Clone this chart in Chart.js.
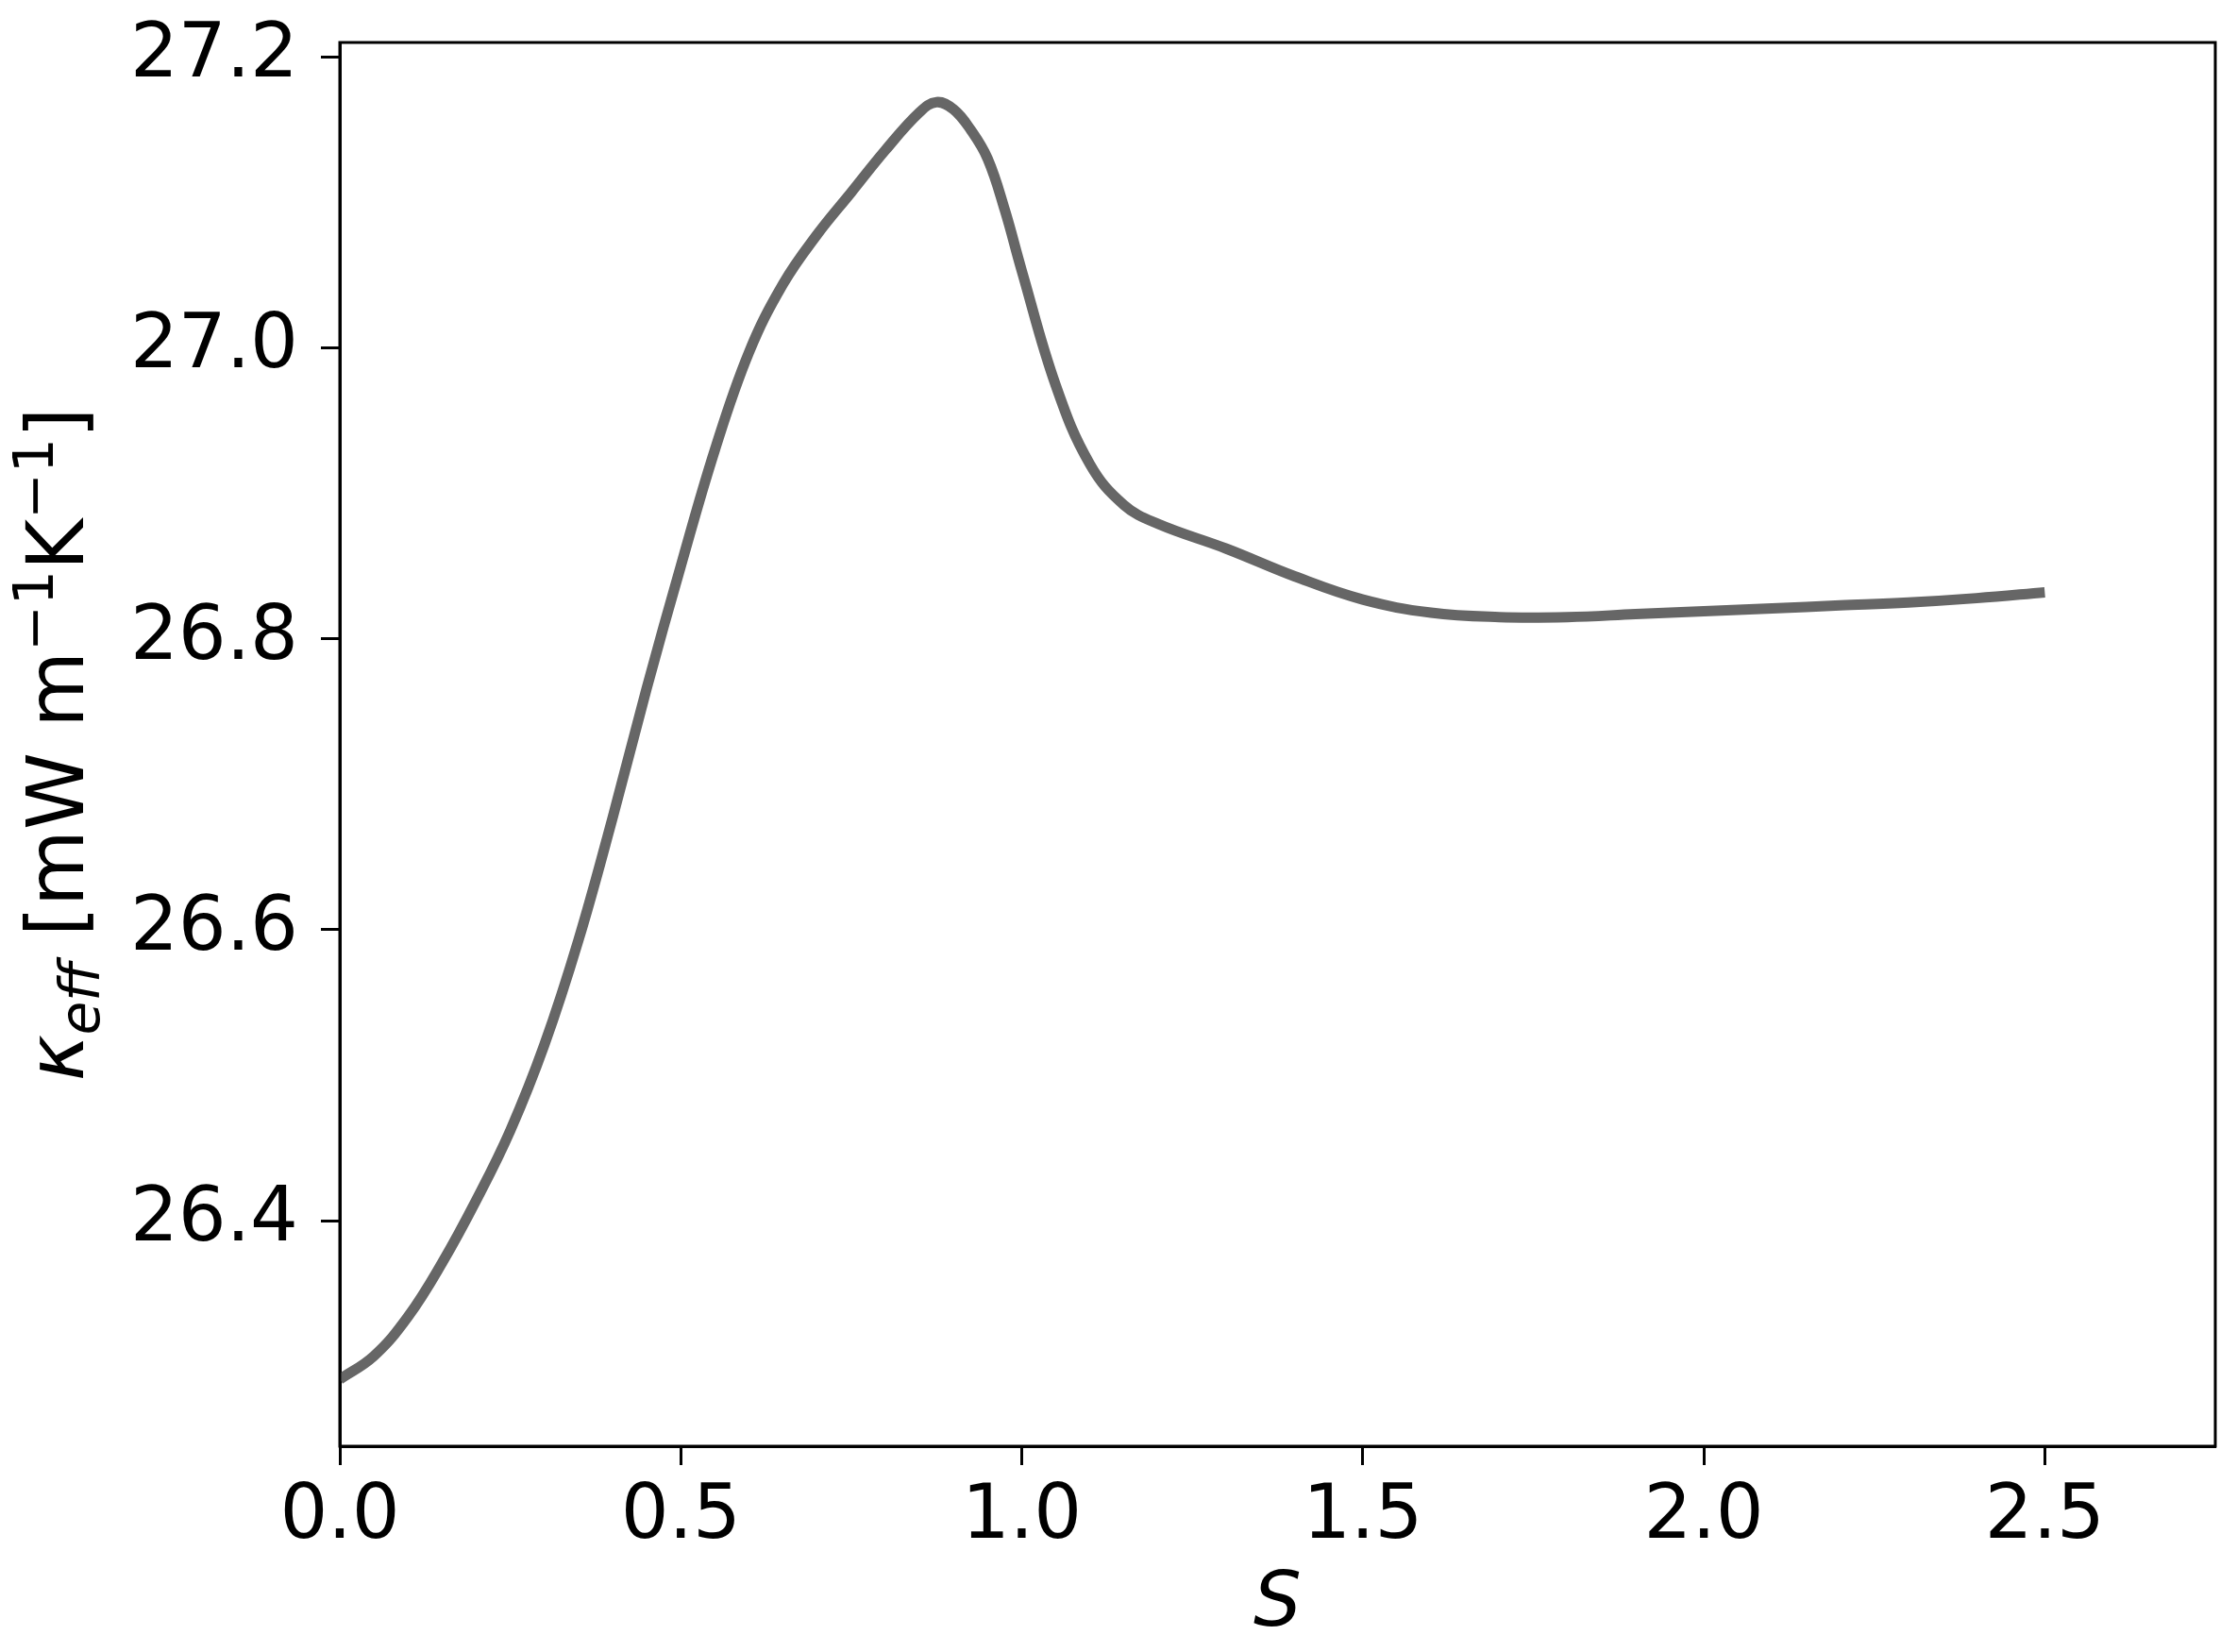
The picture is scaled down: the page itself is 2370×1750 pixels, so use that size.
<!DOCTYPE html>
<html>
<head>
<meta charset="utf-8">
<script src="https://cdn.jsdelivr.net/npm/chart.js@4.4.1/dist/chart.umd.min.js"></script>
<style>
  html, body { margin: 0; padding: 0; background: #fff; }
  #wrap { width: 2370px; height: 1750px; }
</style>
</head>
<body>
<div id="wrap"><canvas id="chart" width="2370" height="1750"></canvas></div>
<script>
// values
const sValues = [0.00, 0.05, 0.10, 0.15, 0.20, 0.25, 0.30, 0.35, 0.40, 0.45,
    0.50, 0.55, 0.60, 0.65, 0.70, 0.75, 0.80, 0.85, 0.875, 0.90,
    0.925, 0.95, 0.975, 1.00, 1.05, 1.10, 1.15, 1.20, 1.30, 1.40,
    1.50, 1.60, 1.70, 1.80, 1.90, 2.00, 2.10, 2.20, 2.30, 2.40, 2.50];
const kappaValues = [26.291, 26.307, 26.334, 26.371, 26.414, 26.462, 26.521, 26.593, 26.677, 26.766,
    26.850, 26.930, 26.997, 27.044, 27.078, 27.107, 27.136, 27.162, 27.169, 27.164,
    27.150, 27.130, 27.095, 27.053, 26.974, 26.920, 26.892, 26.879, 26.862, 26.843,
    26.827, 26.818, 26.815, 26.815, 26.817, 26.819, 26.821, 26.823, 26.825, 26.828, 26.832];
const xTicks = [0.0, 0.5, 1.0, 1.5, 2.0, 2.5];
const yTicks = [26.4, 26.6, 26.8, 27.0, 27.2];

const FONT = 'DejaVu Sans';
const TICK_SIZE = 80;

// frame round the plot area (matplotlib style box)
const framePlugin = {
    id: 'frame',
    afterDraw(chart) {
        const { ctx, chartArea } = chart;
        ctx.save();
        ctx.strokeStyle = '#000';
        ctx.lineWidth = 3;
        ctx.strokeRect(chartArea.left, chartArea.top,
            chartArea.right - chartArea.left, chartArea.bottom - chartArea.top);
        ctx.restore();
    }
};

// y label with subscript / superscripts, drawn rotated
const yLabelPlugin = {
    id: 'yLabel',
    afterDraw(chart) {
        const { ctx, chartArea } = chart;
        const F = 83;
        const parts = [
            { t: '\u03BA', size: F, italic: true, dy: 0 },
            { t: 'eff', size: F * 0.7, italic: true, dy: F * 0.2 },
            { t: ' [mW m', size: F, italic: false, dy: 0 },
            { t: '\u22121', size: F * 0.7, italic: false, dy: -F * 0.38 },
            { t: 'K', size: F, italic: false, dy: 0 },
            { t: '\u22121', size: F * 0.7, italic: false, dy: -F * 0.38 },
            { t: ']', size: F, italic: false, dy: 0 }
        ];
        ctx.save();
        let total = 0;
        parts.forEach(p => {
            ctx.font = (p.italic ? 'italic ' : '') + p.size + 'px "' + FONT + '"';
            p.w = ctx.measureText(p.t).width;
            total += p.w;
        });
        const cy = (chartArea.top + chartArea.bottom) / 2;
        ctx.translate(88, cy);
        ctx.rotate(-Math.PI / 2);
        ctx.fillStyle = '#000';
        ctx.textBaseline = 'alphabetic';
        let x = -total / 2;
        parts.forEach(p => {
            ctx.font = (p.italic ? 'italic ' : '') + p.size + 'px "' + FONT + '"';
            ctx.fillText(p.t, x, p.dy);
            x += p.w;
        });
        ctx.restore();
    }
};

const ctx = document.getElementById('chart').getContext('2d');

new Chart(ctx, {
    type: 'line',
    data: {
        datasets: [{
            data: sValues.map((s, i) => ({ x: s, y: kappaValues[i] })),
            borderColor: '#666666',
            borderWidth: 11,
            pointRadius: 0,
            fill: false,
            tension: 0.4
        }]
    },
    options: {
        responsive: false,
        devicePixelRatio: 1,
        animation: false,
        layout: { padding: { left: 0, right: 23, top: 45, bottom: 0 } },
        plugins: {
            legend: { display: false },
            tooltip: { enabled: false }
        },
        scales: {
            x: {
                type: 'linear',
                min: 0,
                max: 2.75,
                afterFit(scale) {
                    scale.height = 218;
                    scale.paddingLeft = 0;
                    scale.paddingRight = 0;
                },
                afterBuildTicks(scale) { scale.ticks = xTicks.map(v => ({ value: v })); },
                ticks: {
                    color: '#000',
                    font: { family: FONT, size: TICK_SIZE },
                    padding: 8,
                    maxRotation: 0,
                    callback: v => v.toFixed(1)
                },
                grid: {
                    drawOnChartArea: false,
                    drawTicks: true,
                    tickLength: 20,
                    tickWidth: 3,
                    tickColor: '#000'
                },
                border: { display: true, color: '#000', width: 3 },
                title: {
                    display: true,
                    text: 'S',
                    color: '#000',
                    font: { family: FONT, size: TICK_SIZE, style: 'italic' },
                    padding: { top: 0, bottom: 1 }
                }
            },
            y: {
                type: 'linear',
                min: 26.245,
                max: 27.21,
                afterFit(scale) {
                    scale.width = 360;
                    scale.paddingTop = 0;
                    scale.paddingBottom = 0;
                },
                afterBuildTicks(scale) { scale.ticks = yTicks.map(v => ({ value: v })); },
                ticks: {
                    color: '#000',
                    font: { family: FONT, size: TICK_SIZE },
                    padding: 24,
                    callback: v => v.toFixed(1)
                },
                grid: {
                    drawOnChartArea: false,
                    drawTicks: true,
                    tickLength: 20,
                    tickWidth: 3,
                    tickColor: '#000'
                },
                border: { display: true, color: '#000', width: 3 }
            }
        }
    },
    plugins: [framePlugin, yLabelPlugin]
});
</script>
</body>
</html>
